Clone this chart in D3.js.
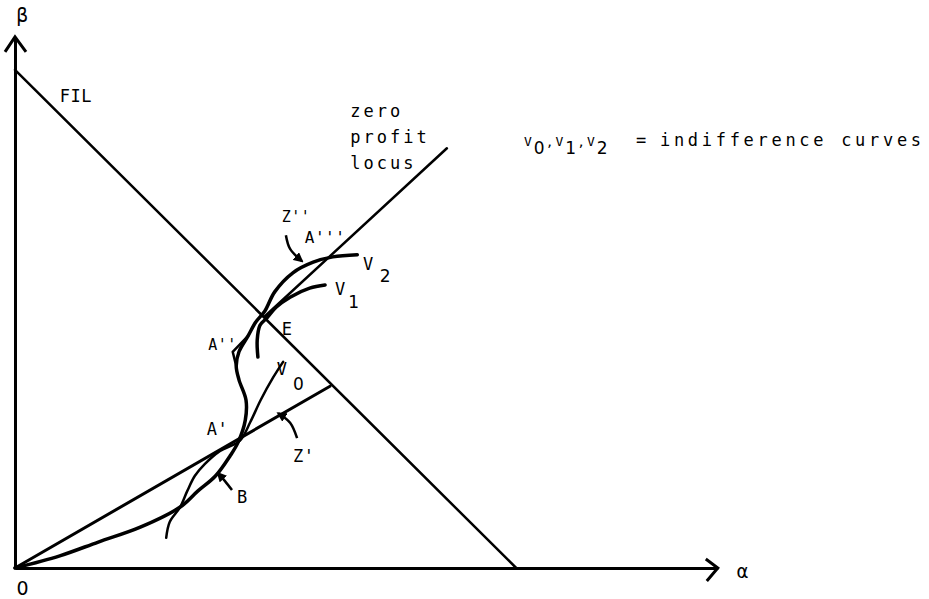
<!DOCTYPE html>
<html>
<head>
<meta charset="utf-8">
<script src="https://cdn.jsdelivr.net/npm/d3@7"></script>
<style>
  body { margin: 0; background: #fff; }
  text { font-family: "DejaVu Sans Mono", monospace; fill: #000; }
  .digit { font-family: "DejaVu Sans", sans-serif; }
</style>
</head>
<body>
<div id="chart"></div>
<script>
// diagram values, in (alpha, beta) units
const alphaMax = 10.04;
const betaMax = 10.02;
const filLine = [[0, 9.4], [7.16, 0]];
const rayLine = [[0, 0], [4.5, 3.43]];
const zeroProfitLine = [[3.57, 4.75], [6.17, 7.92]];
const mainCurve = [[0, 0], [0.64, 0.23], [1.19, 0.49], [1.79, 0.77], [2.36, 1.15], [2.61, 1.45],
    [2.86, 1.73], [3.07, 2.11], [3.19, 2.38], [3.29, 2.79], [3.30, 3.17], [3.20, 3.55],
    [3.16, 3.81], [3.20, 4.08], [3.33, 4.38], [3.44, 4.64], [3.57, 4.85], [3.71, 5.21],
    [3.97, 5.57], [4.26, 5.77], [4.54, 5.87], [4.89, 5.91]];
const spikeA2 = [[3.16, 3.81], [3.11, 4.08], [3.33, 4.38]];
const curveV0 = [[2.16, 0.57], [2.21, 0.87], [2.36, 1.15], [2.46, 1.45], [2.57, 1.74], [2.71, 1.96],
    [2.93, 2.21], [3.21, 2.40], [3.36, 2.75], [3.51, 3.17], [3.69, 3.60], [3.83, 3.89]];
const curveV1 = [[3.47, 3.98], [3.46, 4.30], [3.50, 4.58], [3.60, 4.72], [3.73, 4.92],
    [3.93, 5.11], [4.21, 5.28], [4.43, 5.34]];
const pointerArrows = [
    [[3.87, 6.28], [3.93, 6.02], [4.10, 5.79]],   // Z''
    [[4.03, 2.45], [3.93, 2.74], [3.76, 2.92]],   // Z'
    [[3.10, 1.47], [3.00, 1.64], [2.90, 1.79]]    // B
];
const pointLabels = [
    ["FIL", 0.64, 8.79, 17], ["A'", 2.74, 2.51, 17], ["B", 3.17, 1.23, 17],
    ["Z'", 3.97, 2.0, 17], ["E", 3.81, 4.40, 17], ["A''", 2.76, 4.11, 15],
    ["A'''", 4.14, 6.13, 16], ["Z''", 3.81, 6.53, 15],
    ["V", 3.74, 3.64, 17], ["0", 3.97, 3.36, 17],
    ["V", 4.57, 5.15, 17], ["1", 4.76, 4.91, 17],
    ["V", 4.97, 5.62, 17], ["2", 5.21, 5.40, 17],
    ["β", 0.02, 10.3, 19], ["α", 10.31, -0.19, 19], ["0", 0.02, -0.5, 19]
];
const locusLines = [["zero", 8.51], ["profit", 8.02], ["locus", 7.53]];
const legendParts = [["V", 0], ["0", 1], [",", 0], ["V", 0], ["1", 1], [",", 0], ["V", 0], ["2", 1]];
const legendText = "indifference curves";

const width = 929, height = 599;
const svg = d3.select("#chart").append("svg")
    .attr("width", width).attr("height", height);

const x = d3.scaleLinear().domain([0, 10]).range([15, 715]);
const y = d3.scaleLinear().domain([0, 10]).range([568, 38]);

// axes (domain lines only)
svg.append("g").attr("transform", `translate(0, ${y(0)})`)
    .call(d3.axisBottom(x.copy().domain([0, alphaMax]).range([x(0), x(alphaMax)]))
        .tickValues([]).tickSizeOuter(0));
svg.append("g").attr("transform", `translate(${x(0)}, 0)`)
    .call(d3.axisLeft(y.copy().domain([0, betaMax]).range([y(0), y(betaMax)]))
        .tickValues([]).tickSizeOuter(0));
svg.selectAll(".domain").attr("stroke", "#000").attr("stroke-width", 3);

// open arrow heads on the axes
const ax = x(alphaMax), ay = y(0);
svg.append("path")
    .attr("d", `M${ax - 12},${ay - 9}L${ax},${ay}L${ax - 11},${ay + 13}`)
    .attr("fill", "none").attr("stroke", "#000").attr("stroke-width", 3);
const bx = x(0), by = y(betaMax);
svg.append("path")
    .attr("d", `M${bx - 10},${by + 15}L${bx},${by}L${bx + 11},${by + 15}`)
    .attr("fill", "none").attr("stroke", "#000").attr("stroke-width", 3);

const straight = d3.line().x(d => x(d[0])).y(d => y(d[1]));
const smooth = d3.line().x(d => x(d[0])).y(d => y(d[1])).curve(d3.curveCatmullRom.alpha(0.5));

function draw(data, gen, w) {
    svg.append("path").datum(data)
        .attr("d", gen)
        .attr("fill", "none")
        .attr("stroke", "#000")
        .attr("stroke-width", w)
        .attr("stroke-linecap", "round")
        .attr("stroke-linejoin", "round");
}

draw(filLine, straight, 2.5);
draw(rayLine, straight, 3);
draw(zeroProfitLine, straight, 2.5);
draw(curveV0, smooth, 2.5);
draw(curveV1, smooth, 3.5);
draw(mainCurve, smooth, 3.5);
draw(spikeA2, straight, 2.5);

// pointer arrows
svg.append("defs").append("marker")
    .attr("id", "head").attr("viewBox", "0 0 10 10")
    .attr("refX", 8).attr("refY", 5)
    .attr("markerWidth", 4).attr("markerHeight", 4)
    .attr("orient", "auto")
    .append("path").attr("d", "M0,0L10,5L0,10z").attr("fill", "#000");

pointerArrows.forEach(a => {
    svg.append("path").datum(a)
        .attr("d", smooth)
        .attr("fill", "none")
        .attr("stroke", "#000")
        .attr("stroke-width", 2.5)
        .attr("marker-end", "url(#head)");
});

// point labels
svg.selectAll("text.lbl")
    .data(pointLabels)
    .enter()
    .append("text")
    .attr("class", d => /\d/.test(d[0]) ? "lbl digit" : "lbl")
    .attr("x", d => x(d[1]))
    .attr("y", d => y(d[2]))
    .style("font-size", d => d[3] + "px")
    .style("letter-spacing", d => d[0].length > 1 ? "0.5px" : null)
    .text(d => d[0]);

// zero profit locus caption
svg.selectAll("text.locus")
    .data(locusLines)
    .enter()
    .append("text")
    .attr("class", "locus")
    .attr("x", x(4.79))
    .attr("y", d => y(d[1]))
    .style("font-size", "17px")
    .style("letter-spacing", "3px")
    .text(d => d[0]);

// legend
const legend = svg.append("text")
    .attr("x", 522).attr("y", 146)
    .style("font-size", "17px");
legendParts.forEach((p, i) => {
    legend.append("tspan")
        .attr("class", p[1] ? "digit" : null)
        .attr("dy", i === 0 ? (p[1] ? 8 : 0) : (p[1] - legendParts[i - 1][1]) * 8)
        .attr("dx", p[0] === "," ? 1 : 2)
        .style("font-size", p[1] ? "17px" : "13px")
        .text(p[0]);
});
legend.append("tspan")
    .attr("x", 636).attr("dy", -8)
    .text("=");
legend.append("tspan")
    .attr("x", 660)
    .style("letter-spacing", "3.7px")
    .text(legendText);
</script>
</body>
</html>
